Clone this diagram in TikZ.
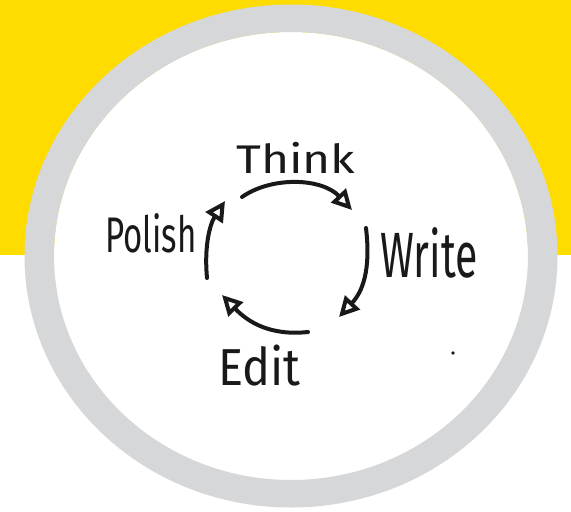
\documentclass[tikz,border=0pt]{standalone}
\usepackage{fontspec}
\setmainfont{Fira Sans}
\usetikzlibrary{arrows.meta}
\definecolor{bannerYellow}{RGB}{255,220,0}
\definecolor{ringGray}{RGB}{213,215,217}
\tikzset{
  stage/.style={anchor=base west, inner sep=0pt, text=black!90},
  cycle arrow/.style={line width=4pt, line cap=round, black!90,
    -{Triangle[open, length=20pt, width=20pt]}},
}

\begin{document}
\begin{tikzpicture}[x=1pt,y=-1pt]
  \useasboundingbox (0,0) rectangle (571,512);
  % background and ring
  \fill[white] (0,0) rectangle (571,512);
  \fill[bannerYellow] (0,0) rectangle (571,255);
  \fill[white] (291,256) ellipse [x radius=237, y radius=224];
  \fill[ringGray, even odd rule] (291,256) ellipse [x radius=266.5, y radius=251.5]
    (291,256) ellipse [x radius=237, y radius=224];
  % labels
  \node[stage] (think)  at (236,173) {\fontsize{40}{40}\selectfont\scalebox{1.2}[1]{Think}};
  \node[stage] (write)  at (380,277) {\fontsize{64}{64}\selectfont\scalebox{0.64}[1]{Write}};
  \node[stage] (edit)   at (218,385) {\fontsize{52}{52}\selectfont\scalebox{0.9}[1]{Edit}};
  \node[stage] (polish) at (105,252) {\fontsize{50}{50}\selectfont\scalebox{0.66}[1]{Polish}};
  % arrow ends
  \coordinate (t1) at (242,197);
  \coordinate (t2) at (352,210);
  \coordinate (w1) at (366,228);
  \coordinate (w2) at (339,317);
  \coordinate (e1) at (308,332);
  \coordinate (e2) at (222,295);
  \coordinate (p1) at (207,278);
  \coordinate (p2) at (225,201);
  \draw[cycle arrow] (t1) .. controls (272,176) and (322,178) .. (t2);
  \draw[cycle arrow] (w1) .. controls (370,262) and (366,288) .. (w2);
  \draw[cycle arrow] (e1) .. controls (270,336) and (248,322) .. (e2);
  \draw[cycle arrow] (p1) .. controls (204,246) and (210,224) .. (p2);
  % stray dot
  \fill[black!90] (453,353) circle (1.8);
\end{tikzpicture}
\end{document}
